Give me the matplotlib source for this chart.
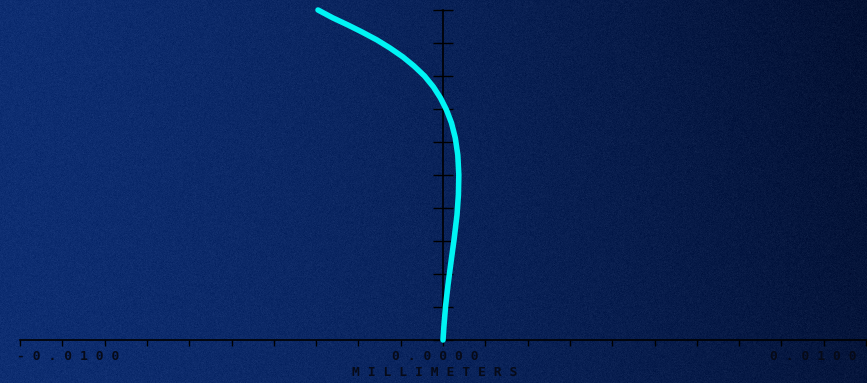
import numpy as np
import matplotlib
matplotlib.use("Agg")
import matplotlib.pyplot as plt
from matplotlib.ticker import FixedLocator, NullFormatter
import matplotlib.transforms as mtransforms

# Field curvature trace: relative field height vs. focus shift (mm)
field = [0.0000, 0.0455, 0.1000, 0.1667, 0.2364, 0.3030, 0.3788, 0.4394,
         0.5000, 0.5606, 0.6121, 0.6576, 0.6970, 0.7333, 0.7667, 0.8000,
         0.8303, 0.8576, 0.8848, 0.9091, 0.9333, 0.9545, 0.9758, 1.0000]
shift_mm = [0.000000, 0.000024, 0.000059, 0.000118, 0.000189, 0.000260,
            0.000331, 0.000364, 0.000374, 0.000350, 0.000291, 0.000201,
            0.000083, -0.000059, -0.000225, -0.000437, -0.000686,
            -0.000946, -0.001253, -0.001560, -0.001915, -0.002246,
            -0.002600, -0.002955]

x_ticks = np.round(np.arange(-0.010, 0.0101, 0.001), 4)
y_ticks = np.round(np.arange(0.0, 1.01, 0.1), 2)
x_label_vals = [-0.0100, 0.0000, 0.0100]
x_label_text = ["-0.0100", "0.0000", "0.0100"]
axis_title = "MILLIMETERS"

W, H = 867, 383
fig = plt.figure(figsize=(W / 100, H / 100), dpi=100)
ax = fig.add_axes([0, 0, 1, 1])

px_per_mm = 42300.0
px_per_field = 330.0
x_left = -0.010 - 20 / px_per_mm
x_right = x_left + W / px_per_mm
y_bottom = -(H - 340) / px_per_field
y_top = y_bottom + H / px_per_field
ax.set_xlim(x_left, x_right)
ax.set_ylim(y_bottom, y_top)

# Blue backdrop fading to dark navy on the right, with fine grain
ny, nx = 383, 867
u = np.linspace(0, 1, nx)[None, :]
v = np.linspace(0, 1, ny)[:, None]  # 0 at top
t = np.clip(0.85 * u ** 1.4 + 0.15 * u * (1 - v), 0, 1)
light = np.array([14, 46, 114]) / 255.0
dark = np.array([4, 17, 50]) / 255.0
img = light[None, None, :] * (1 - t[..., None]) + dark[None, None, :] * t[..., None]
rng = np.random.default_rng(7)
img = img + rng.normal(0, 0.012, size=(ny, nx, 1))
img = np.clip(img, 0, 1)
ax.imshow(img, extent=(x_left, x_right, y_bottom, y_top), aspect="auto",
          zorder=0, interpolation="nearest")

# Axes drawn as spines crossing at the origin
for side in ("top", "right"):
    ax.spines[side].set_visible(False)
ax.spines["bottom"].set_position(("data", 0.0))
ax.spines["left"].set_position(("data", 0.0))
ax.spines["bottom"].set_bounds(-0.010, x_right)
ax.spines["left"].set_bounds(0.0, 1.0)
for side in ("bottom", "left"):
    ax.spines[side].set_color("#000000")
    ax.spines[side].set_linewidth(1.2)
    ax.spines[side].set_zorder(2)

ax.xaxis.set_major_locator(FixedLocator(x_ticks))
ax.yaxis.set_major_locator(FixedLocator(y_ticks))
ax.xaxis.set_major_formatter(NullFormatter())
ax.yaxis.set_major_formatter(NullFormatter())
ax.tick_params(axis="x", direction="out", length=4.0, width=1.0, color="#000000")
ax.tick_params(axis="y", direction="inout", length=14.4, width=1.0, color="#000000")

# Curve
ax.plot(shift_mm, field, color="#00f4f4", lw=4.0, solid_capstyle="round",
        solid_joinstyle="round", zorder=3)

# Axis labels in wide-tracked monospace
def tracked(s):
    return " ".join(s)

font = dict(family="DejaVu Sans Mono", fontsize=9.4, fontweight="bold",
            color="#060a18")
tr = ax.get_xaxis_transform()
offsets = [(-3, "left"), (-8, "center"), (-9, "right")]
for val, txt, (dx, ha) in zip(x_label_vals, x_label_text, offsets):
    trans = tr + mtransforms.ScaledTranslation(dx / 100, 0, fig.dpi_scale_trans)
    ax.text(val, (383 - 357) / 383, tracked(txt), transform=trans, ha=ha,
            va="center", **font)
trans = tr + mtransforms.ScaledTranslation(-8 / 100, 0, fig.dpi_scale_trans)
ax.text(0.0, (383 - 373) / 383, tracked(axis_title), transform=trans,
        ha="center", va="center", **font)

fig.savefig("out.png", dpi=100)
